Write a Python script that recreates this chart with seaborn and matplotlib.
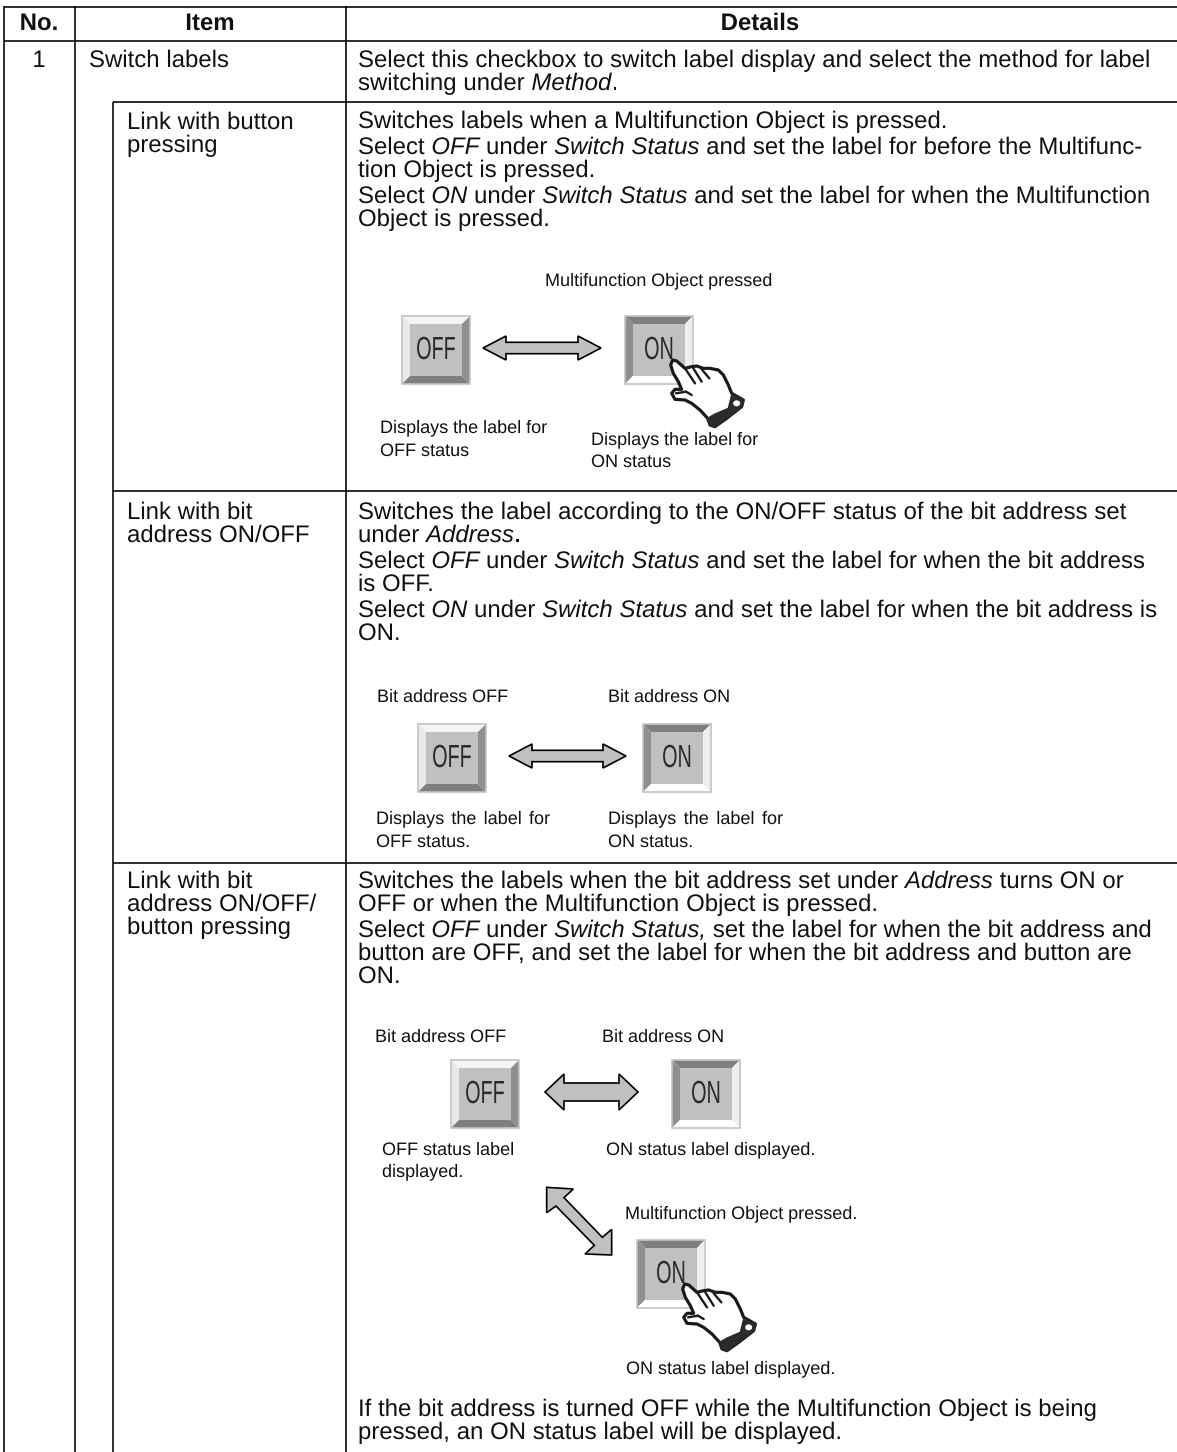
# Settings table for switching labels, redrawn on a full-figure axes in image pixels

import seaborn as sns
import matplotlib.pyplot as plt
import matplotlib.patheffects as pe
from matplotlib.patches import Polygon, Ellipse
from matplotlib.transforms import Affine2D

sns.set_theme(style='white')
plt.rcParams['font.family'] = ['Liberation Sans', 'DejaVu Sans']
plt.rcParams['text.hinting'] = 'no_hinting'

# table text
header_labels = ['No.', 'Item', 'Details']
row_number = '1'
item_top = 'Switch labels'
item_button = ['Link with button', 'pressing']
item_bit = ['Link with bit', 'address ON/OFF']
item_both = ['Link with bit', 'address ON/OFF/', 'button pressing']

# each detail line is a list of (text, italic) pieces
detail_top = [
    [('Select this checkbox to switch label display and select the method for label', False)],
    [('switching under ', False), ('Method', True), ('.', False)],
]
detail_button = [
    [('Switches labels when a Multifunction Object is pressed.', False)],
    [('Select ', False), ('OFF', True), (' under ', False), ('Switch Status', True),
     (' and set the label for before the Multifunc-', False)],
    [('tion Object is pressed.', False)],
    [('Select ', False), ('ON', True), (' under ', False), ('Switch Status', True),
     (' and set the label for when the Multifunction', False)],
    [('Object is pressed.', False)],
]
detail_bit = [
    [('Switches the label according to the ON/OFF status of the bit address set', False)],
    [('under ', False), ('Address', True), ('.', False)],
    [('Select ', False), ('OFF', True), (' under ', False), ('Switch Status', True),
     (' and set the label for when the bit address', False)],
    [('is OFF.', False)],
    [('Select ', False), ('ON', True), (' under ', False), ('Switch Status', True),
     (' and set the label for when the bit address is', False)],
    [('ON.', False)],
]
detail_both = [
    [('Switches the labels when the bit address set under ', False), ('Address', True),
     (' turns ON or', False)],
    [('OFF or when the Multifunction Object is pressed.', False)],
    [('Select ', False), ('OFF', True), (' under ', False), ('Switch Status,', True),
     (' set the label for when the bit address and', False)],
    [('button are OFF, and set the label for when the bit address and button are', False)],
    [('ON.', False)],
]
detail_note = [
    [('If the bit address is turned OFF while the Multifunction Object is being', False)],
    [('pressed, an ON status label will be displayed.', False)],
]

# captions around the buttons
caption_pressed = 'Multifunction Object pressed'
caption_pressed_dot = 'Multifunction Object pressed.'
caption_bit_off = 'Bit address OFF'
caption_bit_on = 'Bit address ON'
caption_off_a = ['Displays the label for', 'OFF status']
caption_on_a = ['Displays the label for', 'ON status']
caption_off_b = ['Displays the label for', 'OFF status.']
caption_on_b = ['Displays the label for', 'ON status.']
caption_off_c = ['OFF status label', 'displayed.']
caption_on_c = 'ON status label displayed.'

W, H = 1177, 1452
BODY = 17.25
SMALL = 13.0
INK = '#111111'

fig = plt.figure(figsize=(W / 100, H / 100), dpi=100)
ax = fig.add_axes([0, 0, 1, 1])
ax.set_xlim(0, W)
ax.set_ylim(H, 0)
ax.axis('off')
renderer = fig.canvas.get_renderer()
# path rendering keeps the words of a line on one baseline
smooth = [pe.Normal()]


def text_width(s, size, italic=False, weight='normal'):
    # padded with x so that edge spaces count
    style = 'italic' if italic else 'normal'
    a = ax.text(0, 0, 'x' + s + 'x', fontsize=size, style=style, weight=weight)
    b = ax.text(0, 0, 'xx', fontsize=size, style=style, weight=weight)
    w = a.get_window_extent(renderer).width - b.get_window_extent(renderer).width
    a.remove()
    b.remove()
    return w


def put_line(x, y, pieces, size=BODY, end=None):
    # end: right edge in pixels, extra space goes between the words
    extra = 0
    if end is not None:
        natural = sum(text_width(t, size, i) for t, i in pieces)
        gaps = sum(t.count(' ') for t, i in pieces)
        extra = (end - x - natural) / max(gaps, 1)
    for t, i in pieces:
        words = t.split(' ')
        for k, word in enumerate(words):
            if word:
                ax.text(x, y, word, fontsize=size, style='italic' if i else 'normal',
                        color=INK, va='baseline', ha='left', path_effects=smooth)
                x += text_width(word, size, i)
            if k < len(words) - 1:
                x += text_width(' ', size, i) + extra


def put_block(x, ys, lines, ends=None, size=BODY):
    for n, (y, line) in enumerate(zip(ys, lines)):
        put_line(x, y, line, size, ends[n] if ends else None)


def plain(strings):
    return [[(s, False)] for s in strings]


class Squeeze(pe.AbstractPathEffect):
    # narrows the glyphs around one x position, the button lettering is condensed
    def __init__(self, sx, cx):
        super().__init__()
        self.sx = sx
        self.cx = cx

    def draw_path(self, renderer, gc, tpath, affine, rgbFace=None):
        t = affine + Affine2D().translate(-self.cx, 0).scale(self.sx, 1).translate(self.cx, 0)
        renderer.draw_path(gc, tpath, t, rgbFace)


def button(x, y, label, pressed=False):
    s, b = 68, 8
    light, dark, side = '#f4f4f4', '#7f7f7f', '#8f8f8f'
    top, left, bottom, right = (dark, side, '#ffffff', '#eeeeee') if pressed else (light, '#e8e8e8', dark, side)
    ax.add_patch(Polygon([(x, y), (x + s, y), (x + s - b, y + b), (x + b, y + b)], fc=top, ec='none'))
    ax.add_patch(Polygon([(x, y), (x + b, y + b), (x + b, y + s - b), (x, y + s)], fc=left, ec='none'))
    ax.add_patch(Polygon([(x, y + s), (x + b, y + s - b), (x + s - b, y + s - b), (x + s, y + s)], fc=bottom, ec='none'))
    ax.add_patch(Polygon([(x + s, y), (x + s, y + s), (x + s - b, y + s - b), (x + s - b, y + b)], fc=right, ec='none'))
    ax.add_patch(Polygon([(x + b, y + b), (x + s - b, y + b), (x + s - b, y + s - b), (x + b, y + s - b)], fc='#c0c0c0', ec='none'))
    ax.add_patch(Polygon([(x, y), (x + s, y), (x + s, y + s), (x, y + s)], fc='none', ec='#c4c4c4', lw=1.2))
    cx = x + s / 2
    ax.text(cx, y + 43, label, fontsize=23, color='#2a2a2a', ha='center', va='baseline',
            path_effects=[Squeeze(0.62, cx)])


def double_arrow(x0, x1, y, head, shaft, length):
    pts = [(x0, y), (x0 + length, y - head), (x0 + length, y - shaft), (x1 - length, y - shaft),
           (x1 - length, y - head), (x1, y), (x1 - length, y + head), (x1 - length, y + shaft),
           (x0 + length, y + shaft), (x0 + length, y + head)]
    ax.add_patch(Polygon(pts, fc='#c0c0c0', ec='black', lw=1.2, joinstyle='miter'))


def hand(x, y):
    # x, y is the top left corner of the button that is pressed
    ox, oy = x + 35, y + 34

    def p(points):
        return [(ox + a / 3, oy + b / 3) for a, b in points]

    outline = [(38, 30), (50, 33), (75, 55), (95, 50), (110, 48), (130, 55), (150, 55), (175, 60),
               (190, 75), (205, 105), (215, 130), (250, 150), (245, 170), (200, 205), (165, 230),
               (150, 225), (143, 205), (120, 180), (95, 160), (75, 150), (45, 148), (35, 130),
               (45, 118), (65, 118), (55, 95), (40, 70), (32, 45)]
    cuff = [(143, 205), (165, 192), (205, 175), (215, 135), (250, 150), (245, 170), (200, 205),
            (165, 230), (150, 225)]
    ax.add_patch(Polygon(p(outline), fc='white', ec='#1a1a1a', lw=2.3, joinstyle='round', zorder=5))
    ax.add_patch(Polygon(p(cuff), fc='#2b2b2b', ec='#2b2b2b', lw=1.0, zorder=6))
    ax.add_patch(Ellipse((ox + 230 / 3, oy + 160 / 3), 7, 6, fc='white', ec='none', zorder=7))
    for seg in ([(75, 55), (105, 100)], [(100, 55), (125, 95)], [(125, 58), (148, 85)],
                [(48, 130), (78, 125)], [(78, 125), (95, 135)]):
        xs, ys = zip(*p(seg))
        ax.plot(xs, ys, color='#1a1a1a', lw=1.7, zorder=7)


# table rules
rule = dict(color='black', lw=1.15, solid_capstyle='butt')
for y in [6.5, 40.5]:
    ax.plot([4, W], [y, y], **rule)
ax.plot([113, W], [102, 102], **rule)
ax.plot([113, W], [491, 491], **rule)
ax.plot([113, W], [862.5, 862.5], **rule)
ax.plot([4, 4], [6, H], **rule)
ax.plot([75, 75], [6, H], **rule)
ax.plot([113, 113], [102, H], **rule)
ax.plot([346, 346], [6, H], **rule)

# header and left columns
for cx, label in zip([39, 210, 760], header_labels):
    ax.text(cx, 30, label, fontsize=BODY, weight='bold', color=INK, ha='center', va='baseline',
            path_effects=smooth)
ax.text(39, 67, row_number, fontsize=BODY, color=INK, ha='center', va='baseline', path_effects=smooth)
put_line(89, 67, [(item_top, False)])
put_block(127, [129, 152], plain(item_button))
put_block(127, [519, 542], plain(item_bit))
put_block(127, [888, 911, 934], plain(item_both))

# details column
put_block(358, [67, 90], detail_top)
put_block(358, [128, 154, 177, 203, 226], detail_button)
put_block(358, [519, 542, 568, 591, 617, 640], detail_bit)
put_block(358, [888, 911, 937, 960, 983], detail_both)
put_block(358, [1416, 1439], detail_note)

# link with button pressing
put_line(545, 286, [(caption_pressed, False)], SMALL)
button(402, 316, 'OFF')
button(625, 316, 'ON', pressed=True)
double_arrow(483, 601, 348, 12, 5.7, 23)
hand(625, 316)
put_block(380, [433, 456], plain(caption_off_a), size=SMALL)
put_block(591, [445, 467], plain(caption_on_a), size=SMALL)

# link with bit address
put_line(377, 702, [(caption_bit_off, False)], SMALL)
put_line(608, 702, [(caption_bit_on, False)], SMALL)
button(418, 724, 'OFF')
button(643, 724, 'ON', pressed=True)
double_arrow(509, 626, 756, 12, 5.7, 23)
put_block(376, [824, 847], plain(caption_off_b), [550, None], size=SMALL)
put_block(608, [824, 847], plain(caption_on_b), [783, None], size=SMALL)

# link with bit address and button
put_line(375, 1042, [(caption_bit_off, False)], SMALL)
put_line(602, 1042, [(caption_bit_on, False)], SMALL)
button(451, 1060, 'OFF')
button(672, 1060, 'ON', pressed=True)
double_arrow(545, 638, 1092, 18, 9, 19)
put_block(382, [1155, 1177], plain(caption_off_c), size=SMALL)
put_line(606, 1155, [(caption_on_c, False)], SMALL)
diagonal = [(560, 502), (640, 507), (612, 533), (727, 652), (755, 628), (755, 705), (675, 702),
            (703, 676), (588, 558), (560, 578)]
ax.add_patch(Polygon([(360 + a / 3, 1020 + b / 3) for a, b in diagonal], fc='#c0c0c0', ec='black', lw=1.2))
put_line(625, 1219, [(caption_pressed_dot, False)], SMALL)
button(637, 1240, 'ON', pressed=True)
hand(637, 1240)
put_line(626, 1374, [(caption_on_c, False)], SMALL)

fig.savefig('out.png', dpi=100)
